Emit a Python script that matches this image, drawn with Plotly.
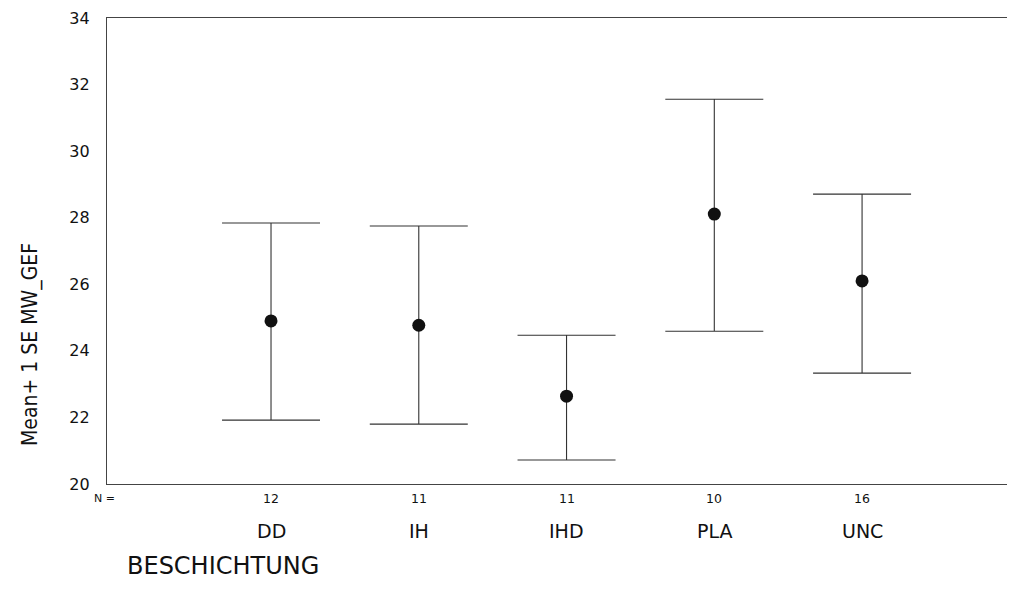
import plotly.graph_objects as go

categories = ["DD", "IH", "IHD", "PLA", "UNC"]
n_values = [12, 11, 11, 10, 16]
means = [24.90, 24.77, 22.64, 28.11, 26.10]
upper = [27.84, 27.75, 24.47, 31.56, 28.71]
lower = [21.92, 21.80, 20.72, 24.59, 23.33]
y_ticks = [20, 22, 24, 26, 28, 30, 32, 34]

err_plus = [u - m for u, m in zip(upper, means)]
err_minus = [m - l for m, l in zip(means, lower)]

font = "DejaVu Sans, Liberation Sans, Arial, sans-serif"
ink = "#111111"

fig = go.Figure()
fig.add_trace(go.Scatter(
    x=categories, y=means, mode="markers",
    marker=dict(color=ink, size=13, symbol="circle"),
    error_y=dict(type="data", symmetric=False, array=err_plus, arrayminus=err_minus,
                 color="#333333", thickness=1.1, width=49),
    showlegend=False, cliponaxis=False,
))

# plot area in page pixels: left 107, right 1015, top 18, bottom 484
def px(x):
    return (x - 107) / 908.0

def py(y):
    return (484 - y) / 466.0

annotations = [dict(x=px(104), y=py(498), xref="paper", yref="paper", text="N =",
                    showarrow=False, xanchor="center", yanchor="middle",
                    font=dict(size=11, color=ink, family=font))]
for c, n in zip(categories, n_values):
    annotations.append(dict(x=c, y=py(498), xref="x", yref="paper", text=str(n),
                            showarrow=False, xanchor="center", yanchor="middle",
                            font=dict(size=12.5, color=ink, family=font)))
    annotations.append(dict(x=c, y=py(531), xref="x", yref="paper", text=c,
                            showarrow=False, xanchor="center", yanchor="middle",
                            font=dict(size=19, color=ink, family=font)))
annotations.append(dict(x=px(125), y=py(566), xref="paper", yref="paper", text="BESCHICHTUNG",
                        showarrow=False, xanchor="left", yanchor="middle",
                        font=dict(size=24, color=ink, family=font)))
annotations.append(dict(x=px(30), y=py(345), xref="paper", yref="paper",
                        text="Mean+ 1 SE MW_GEF",
                        showarrow=False, textangle=-90, xanchor="center", yanchor="middle",
                        font=dict(size=21, color=ink,
                                  family="DejaVu Sans Condensed, Liberation Sans Narrow, sans-serif")))

fig.update_layout(
    width=1007, height=585,
    margin=dict(l=99, r=0, t=10, b=109, autoexpand=False),
    paper_bgcolor="white", plot_bgcolor="white",
    annotations=annotations,
    xaxis=dict(range=[-1.11, 5.035], showline=True, mirror=True, linecolor="#444444",
               linewidth=1.3, showgrid=False, zeroline=False, showticklabels=False, ticks=""),
    yaxis=dict(range=[20, 34], tickvals=y_ticks, showline=True, linecolor="#444444",
               linewidth=1.3, showgrid=False, zeroline=False, ticks="",
               tickfont=dict(size=16, color=ink, family=font), ticklabelstandoff=13),
)

fig.write_html("out.html")
